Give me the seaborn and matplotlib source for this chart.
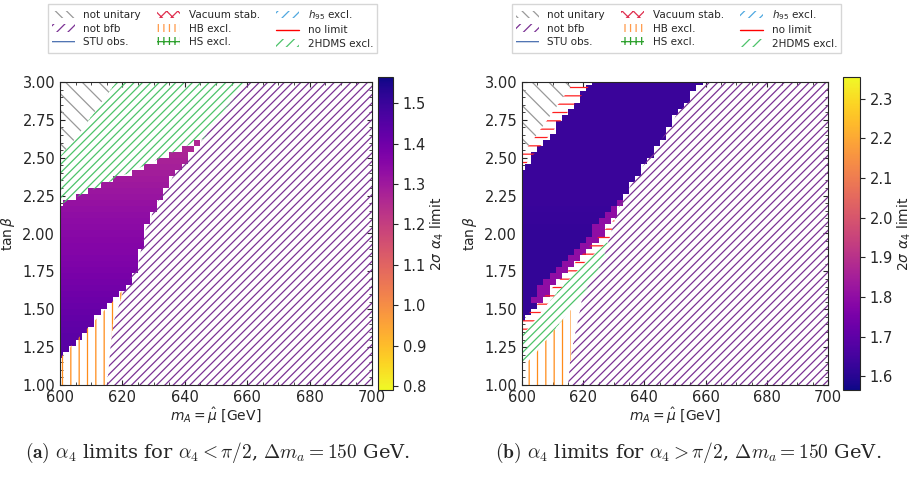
import numpy as np
import matplotlib
matplotlib.use("Agg")
import matplotlib.pyplot as plt
import seaborn as sns
from matplotlib.patches import Patch
from matplotlib.lines import Line2D

sns.set_style("ticks")
plt.rcParams['font.family'] = ['DejaVu Sans']
plt.rcParams['mathtext.fontset'] = 'dejavusans'
plt.rcParams['hatch.linewidth'] = 0.9

# ---- data (boundaries) ----
tan_knots = [1.0, 1.2, 1.4, 1.6, 1.8, 2.0, 2.2, 2.4, 2.6, 2.8, 3.0]
# panel (a)
bfb_a   = [615, 616, 617, 620, 625, 627, 631, 637, 645, 652, 660]
low_a   = [590, 601, 610, 619, 628, 700, 700, 700, 700, 700, 700]
up_a    = [500, 500, 500, 500, 500, 500, 601, 622, 643, 665, 685]
uni_a   = [500, 500, 500, 500, 500, 500, 500, 595, 604, 611, 618]
val_a   = [1.46, 1.45, 1.43, 1.40, 1.37, 1.35, 1.32, 1.29, 1.26, 1.25, 1.25]
# panel (b)
bfb_b   = [615, 616, 618, 620, 626, 629, 632, 638, 645, 651, 659]
low_b   = [580, 590, 599, 608, 617, 626, 635, 700, 700, 700, 700]
vlow_b  = [585, 595, 603, 611, 620, 631, 640, 700, 700, 700, 700]
green_b = [594, 604, 612, 620, 626, 631, 640, 700, 700, 700, 700]
vup_b   = [500, 500, 500, 500, 500, 500, 500, 599, 607, 615, 623]
uni_b   = [500, 500, 500, 500, 500, 500, 500, 595, 603, 610, 617]
val_b   = [1.62, 1.62, 1.62, 1.62, 1.62, 1.62, 1.63, 1.63, 1.63, 1.63, 1.63]
edge_val_b = 1.80

mA_c = np.arange(600, 701, 2.0)
tb_c = np.arange(1.0, 3.001, 0.04)
mA_f = np.linspace(600, 700, 400)
tb_f = np.linspace(1.0, 3.0, 400)

def I(k, t):
    return np.interp(t, tan_knots, k)

def masks_a(M, T):
    bfb = M > I(bfb_a, T)
    col = (~bfb) & (M <= I(low_a, T)) & (M >= I(up_a, T))
    uni = M < I(uni_a, T)
    hb = (~bfb) & (M > I(low_a, T)) & (T < 1.8)
    green = (~bfb) & (M < I(up_a, T)) & (~uni) & (T > 2.1)
    return dict(col=col, bfb=bfb, uni=uni, hb=hb, green=green)

def masks_b(M, T):
    bfb = M > I(bfb_b, T)
    col = (~bfb) & (M <= I(low_b, T)) & (M >= I(vup_b, T))
    uni = M < I(uni_b, T)
    vac = ((~bfb) & (M > I(low_b, T)) & (M <= I(vlow_b, T))) | \
          ((M < I(vup_b, T)) & (~uni))
    green = (~bfb) & (M > I(vlow_b, T)) & (M <= I(green_b, T))
    hb = (~bfb) & (M > I(green_b, T)) & (T < 1.62) & (M < 616)
    return dict(col=col, bfb=bfb, uni=uni, vac=vac, green=green, hb=hb)

styles = {
    'uni': ('\\\\', '#999999'),
    'bfb': ('////', '#7b3294'),
    'hb': ('||', '#ff8c1a'),
    'green': ('////', '#4cc36a'),
    'vac': ('--', '#ff2020'),
}

fig = plt.figure(figsize=(9.11, 4.9), dpi=100)
W, H = 911, 490
def rect(l, t, r, b):
    return [l / W, 1 - b / H, (r - l) / W, (b - t) / H]

panels = [
    dict(ax=rect(60, 82, 372, 385), cax=rect(378, 77, 393, 390), m=masks_a, val=val_a,
         cmap='plasma_r', vmin=0.79, vmax=1.565, ticks=[0.8, 0.9, 1.0, 1.1, 1.2, 1.3, 1.4, 1.5],
         leg=(55, 5, 370, 52),
         cap=r"$\mathbf{(a)}$ $\alpha_4$ limits for $\alpha_4 < \pi/2$, $\Delta m_a = 150$ GeV.", cx=218),
    dict(ax=rect(522, 82, 828, 385), cax=rect(843, 77, 860, 390), m=masks_b, val=val_b,
         cmap='plasma', vmin=1.565, vmax=2.355, ticks=[1.6, 1.7, 1.8, 1.9, 2.0, 2.1, 2.2, 2.3],
         leg=(520, 5, 833, 52),
         cap=r"$\mathbf{(b)}$ $\alpha_4$ limits for $\alpha_4 > \pi/2$, $\Delta m_a = 150$ GeV.", cx=688),
]

for i, p in enumerate(panels):
    ax = fig.add_axes(p['ax'])
    Mc, Tc = np.meshgrid(mA_c, tb_c)
    mk = p['m'](Mc, Tc)
    vals = I(p['val'], Tc)
    if i == 1:
        near = Mc > I(low_b, Tc) - 4
        vals = np.where(near & (Tc > 1.55), edge_val_b, vals)
    Z = np.ma.masked_where(~mk['col'], vals)
    me = np.append(mA_c - 1, 701)
    te = np.append(tb_c - 0.02, 3.02)
    pc = ax.pcolormesh(me, te, Z, cmap=p['cmap'], vmin=p['vmin'], vmax=p['vmax'])
    Mf, Tf = np.meshgrid(mA_f, tb_f)
    mf = p['m'](Mf, Tf)
    for key, (h, c) in styles.items():
        if key not in mf or not mf[key].any():
            continue
        cs = ax.contourf(Mf, Tf, mf[key].astype(float), levels=[0.5, 1.5],
                         colors='none', hatches=[h])
        cs.set_edgecolor(c)
        cs.set_linewidth(0)
    ax.set_xlim(600, 700)
    ax.set_ylim(1.0, 3.0)
    ax.set_xticks([600, 620, 640, 660, 680, 700])
    ax.set_yticks([1.0, 1.25, 1.5, 1.75, 2.0, 2.25, 2.5, 2.75, 3.0])
    ax.set_yticklabels(['1.00', '1.25', '1.50', '1.75', '2.00', '2.25', '2.50', '2.75', '3.00'])
    ax.minorticks_on()
    ax.tick_params(which='both', direction='in', top=True, right=True, labelsize=10.5)
    ax.set_xlabel(r"$m_A = \hat{\mu}$ [GeV]", fontsize=10, labelpad=1)
    ax.set_ylabel(r"$\tan\beta$", fontsize=10)
    cax = fig.add_axes(p['cax'])
    cb = fig.colorbar(pc, cax=cax, ticks=p['ticks'])
    cb.ax.tick_params(labelsize=10.5)
    cb.set_label(r"$2\sigma\ \alpha_4$ limit", fontsize=10, labelpad=2)

    handles = [
        Patch(facecolor='none', edgecolor='#999999', hatch='\\\\\\', lw=0, label='not unitary'),
        Patch(facecolor='none', edgecolor='#7b3294', hatch='///', lw=0, label='not bfb'),
        Patch(facecolor='none', edgecolor='#4a6fb0', hatch='---', lw=0, label='STU obs.'),
        Patch(facecolor='none', edgecolor='#e03050', hatch='xxx', lw=0, label='Vacuum stab.'),
        Patch(facecolor='none', edgecolor='#ff9a4a', hatch='|||', lw=0, label='HB excl.'),
        Patch(facecolor='none', edgecolor='#2ca02c', hatch='+++', lw=0, label='HS excl.'),
        Patch(facecolor='none', edgecolor='#4fa8e0', hatch='///', lw=0, label=r'$h_{95}$ excl.'),
        Line2D([], [], color='red', lw=1, label='no limit'),
        Patch(facecolor='none', edgecolor='#4cc36a', hatch='///', lw=0, label='2HDMS excl.'),
    ]
    l, t, r, b = p['leg']
    fig.legend(handles=handles, ncol=3, fontsize=7.5, loc='center',
               bbox_to_anchor=((l + r) / 2 / W, 1 - (t + b) / 2 / H),
               frameon=True, handlelength=2.2, columnspacing=1.6, labelspacing=0.3,
               borderpad=0.4, fancybox=False, edgecolor='#cccccc')
    fig.text(p['cx'] / W, 1 - 453 / H, p['cap'], ha='center', va='center',
             fontsize=14, family='DejaVu Serif', math_fontfamily='cm')

fig.savefig("out.png", dpi=100)
